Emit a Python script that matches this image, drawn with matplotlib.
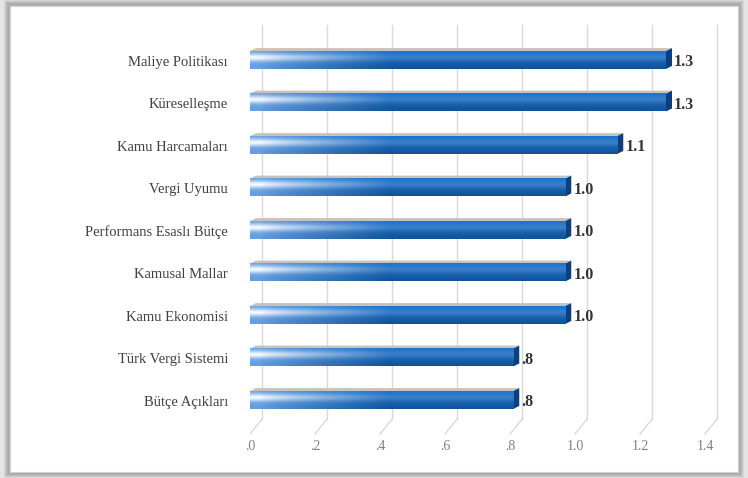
import numpy as np
import matplotlib.pyplot as plt
from matplotlib.patches import Rectangle, Polygon

# veriler (yukaridan asagiya)
categories = ["Maliye Politikası", "Küreselleşme", "Kamu Harcamaları", "Vergi Uyumu",
              "Performans Esaslı Bütçe", "Kamusal Mallar", "Kamu Ekonomisi",
              "Türk Vergi Sistemi", "Bütçe Açıkları"]
values = [1.28, 1.28, 1.13, 0.97, 0.97, 0.97, 0.97, 0.81, 0.81]
value_labels = ["1.3", "1.3", "1.1", "1.0", "1.0", "1.0", "1.0", ".8", ".8"]
x_ticks = [0.0, 0.2, 0.4, 0.6, 0.8, 1.0, 1.2, 1.4]
x_tick_labels = [".0", ".2", ".4", ".6", ".8", "1.0", "1.2", "1.4"]

W, H = 748, 478
fig = plt.figure(figsize=(W / 100, H / 100), dpi=100)
fig.patch.set_facecolor("#e4e4e4")

# cerceve golgesi (disari dogru acilan gri)
shades = ["#d6d6d6", "#c8c8c8", "#bababa", "#b0b0b0", "#a8a8a8", "#b4b4b4"]
for k, col in enumerate(shades):
    d = len(shades) - k
    fig.patches.append(Rectangle(((10 - d) / W, (6 - d) / H), (728 + 2 * d) / W, (466 + 2 * d) / H,
                                 transform=fig.transFigure, facecolor=col,
                                 edgecolor="none", zorder=-3))
fig.patches.append(Rectangle((10 / W, 6 / H), 728 / W, 466 / H, transform=fig.transFigure,
                             facecolor="white", edgecolor="#d0d0d0", lw=0.8, zorder=-1))

# eksen: x=0 -> 250px, 325 px / birim ; kategori i -> 60 + 42.5*i px
px_unit = 325.0
x0_px = 250
ax_left, ax_right = x0_px, 725
ax_top, ax_bot = 20, 440
ax = fig.add_axes([ax_left / W, 1 - ax_bot / H, (ax_right - ax_left) / W, (ax_bot - ax_top) / H])
ax.set_zorder(5)
ax.patch.set_visible(False)
y_top = -(60 - ax_top) / 42.5
y_bot = (ax_bot - 60) / 42.5
ax.axis("off")

# arka duvar izgara cizgileri + zemin perspektifi
off = 12 / px_unit
for t in x_ticks:
    ax.plot([t + off, t + off], [y_top + 0.12, 8.45], color="#d9d9d9", lw=1, zorder=1)
    ax.plot([t + off, t], [8.45, 8.8], color="#d9d9d9", lw=1, zorder=1)

# gradyanli cubuklar
blue = np.array([0.09, 0.43, 0.79])
nx, ny = 200, 30
gx = np.linspace(0, 1, nx)
gy = np.linspace(0, 1, ny)[:, None]
bar_h = 0.42
for i, (v, lab) in enumerate(zip(values, value_labels)):
    xx = gx[None, :] * v
    fh = np.clip((xx - 0.03) / 0.4, 0, 1)[..., None] ** 0.8
    # dikey: ust-orta acik parlama, altta koyu
    mid = np.exp(-((gy - 0.35) / 0.22) ** 2)[..., None]
    light = np.array([0.96, 0.98, 1.0])
    base = blue * (1.05 - 0.3 * gy[..., None])
    base = base + 0.15 * mid * (1 - blue)
    left_col = light * mid + np.array([0.40, 0.62, 0.88]) * (1 - mid)
    img = np.clip(left_col * (1 - fh) + base * fh, 0, 1)
    # ust yuz
    ax.add_patch(Polygon([(0, i - bar_h / 2), (v, i - bar_h / 2),
                          (v + 6 / px_unit, i - bar_h / 2 - 0.07), (6 / px_unit, i - bar_h / 2 - 0.07)],
                         closed=True, facecolor="#c9c2ba", edgecolor="none", zorder=2))
    # sag yan yuz
    ax.add_patch(Polygon([(v, i - bar_h / 2), (v + 6 / px_unit, i - bar_h / 2 - 0.07),
                          (v + 6 / px_unit, i + bar_h / 2 - 0.07), (v, i + bar_h / 2)],
                         closed=True, facecolor="#0b3f7e", edgecolor="none", zorder=2))
    ax.imshow(img, extent=[0, v, i + bar_h / 2, i - bar_h / 2], aspect="auto",
              interpolation="bilinear", zorder=3)
    ax.text(v + 8 / px_unit, i + 0.05, lab, ha="left", va="center",
            fontsize=11.5, fontweight="bold", family="Liberation Serif", color="#333333")

ax.set_ylim(y_bot, y_top)
ax.set_xlim(0, (ax_right - ax_left) / px_unit)

# kategori etiketleri
for i, c in enumerate(categories):
    ax.text(-22 / px_unit, i + 0.05, c, ha="right", va="center", fontsize=10.5,
            family="Liberation Serif", color="#404040", clip_on=False)

# x ekseni etiketleri
for t, lab in zip(x_ticks, x_tick_labels):
    ax.text(t, (447 - 60) / 42.5, lab, ha="center", va="center", fontsize=10,
            family="Liberation Serif", color="#808080", clip_on=False)

fig.savefig("out.png", dpi=100)
